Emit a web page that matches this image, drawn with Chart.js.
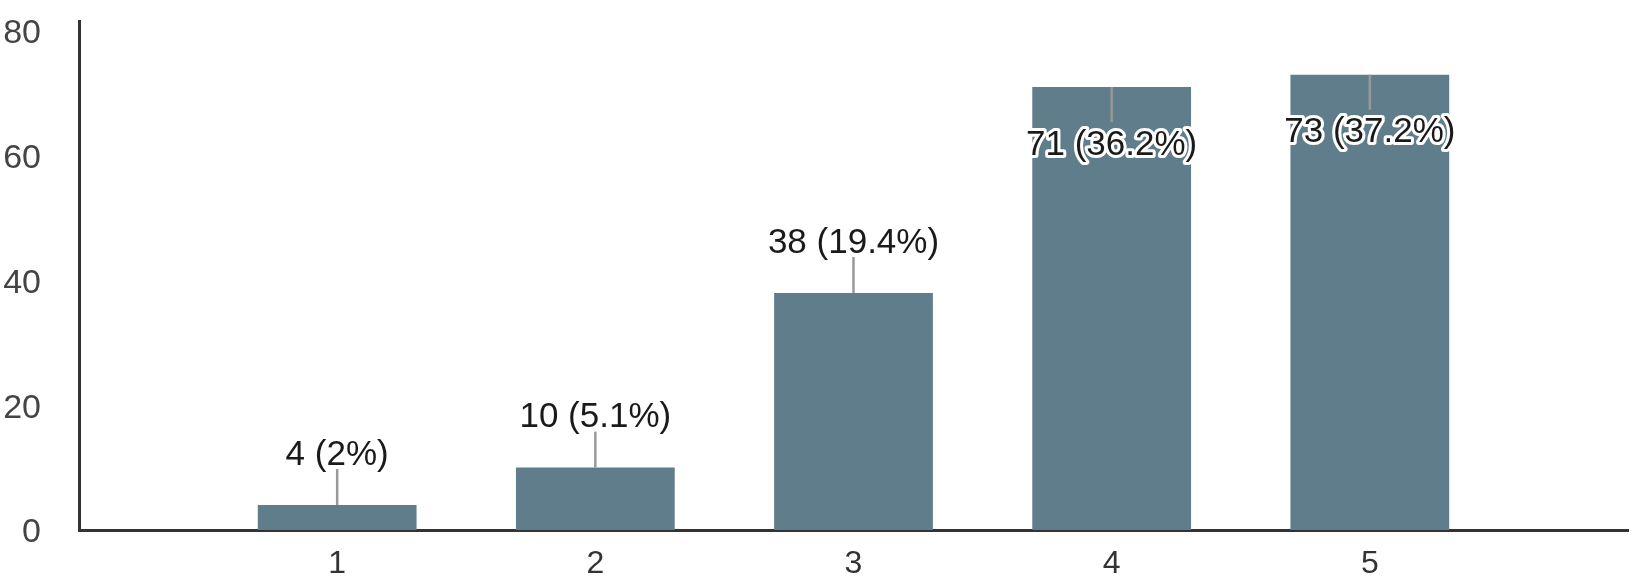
<!DOCTYPE html>
<html lang="en">
<head>
    <meta charset="UTF-8">
    <title>Responses</title>
    <script src="https://cdn.jsdelivr.net/npm/chart.js"></script>
    <style>
        html, body { margin: 0; padding: 0; background: #fff; }
        #wrap { width: 1639px; height: 581px; position: relative; }
    </style>
</head>
<body>
    <div id="wrap"><canvas id="responsesChart"></canvas></div>

    <script>
        // values
        const categories = ['1', '2', '3', '4', '5'];
        const counts = [4, 10, 38, 71, 73];
        const percents = ['2%', '5.1%', '19.4%', '36.2%', '37.2%'];
        const yTicks = [0, 20, 40, 60, 80];

        // empty slot on each side, like the original axis
        const labels = [''].concat(categories, ['']);
        const values = [null].concat(counts, [null]);

        // leader line + "count (pct)" label for each bar
        const leaderLabels = {
            id: 'leaderLabels',
            afterDatasetsDraw(chart) {
                const ctx = chart.ctx;
                const meta = chart.getDatasetMeta(0);
                ctx.save();
                meta.data.forEach((bar, i) => {
                    const v = values[i];
                    if (v === null || v === undefined) return;
                    const k = i - 1;
                    const text = counts[k] + ' (' + percents[k] + ')';
                    const inside = bar.y - 90 < chart.chartArea.top;
                    const lineEnd = inside ? bar.y + 35 : bar.y - 36;
                    const textY = inside ? bar.y + 58 : bar.y - 50;

                    ctx.strokeStyle = '#999999';
                    ctx.lineWidth = 2.5;
                    ctx.beginPath();
                    ctx.moveTo(bar.x, bar.y);
                    ctx.lineTo(bar.x, lineEnd);
                    ctx.stroke();

                    ctx.font = '35px "Liberation Sans", Arial, sans-serif';
                    ctx.textAlign = 'center';
                    ctx.textBaseline = 'middle';
                    ctx.lineJoin = 'round';
                    ctx.strokeStyle = '#ffffff';
                    ctx.lineWidth = 6;
                    ctx.strokeText(text, bar.x, textY);
                    ctx.fillStyle = '#1a1a1a';
                    ctx.fillText(text, bar.x, textY);
                });
                ctx.restore();
            }
        };

        const responsesChart = new Chart(document.getElementById('responsesChart'), {
            type: 'bar',
            data: {
                labels: labels,
                datasets: [{
                    data: values,
                    backgroundColor: '#607d8b',
                    barPercentage: 0.615,
                    categoryPercentage: 1.0
                }]
            },
            options: {
                responsive: true,
                maintainAspectRatio: false,
                animation: false,
                layout: { padding: { top: 21, right: 11, left: 0, bottom: 0 } },
                plugins: {
                    legend: { display: false },
                    tooltip: { enabled: false }
                },
                scales: {
                    x: {
                        offset: false,
                        grid: { display: false, drawTicks: false },
                        border: { display: true, color: '#333333', width: 3 },
                        ticks: {
                            color: '#333333',
                            padding: 15,
                            maxRotation: 0,
                            autoSkip: false,
                            font: { family: '"Liberation Sans", Arial, sans-serif', size: 32 }
                        },
                        afterFit: (scale) => {
                            scale.height = 51;
                            scale.paddingLeft = 0;
                            scale.paddingRight = 0;
                        }
                    },
                    y: {
                        min: 0,
                        max: 81.6,
                        grid: { display: false, drawTicks: false },
                        border: { display: true, color: '#333333', width: 3 },
                        ticks: {
                            stepSize: 20,
                            includeBounds: false,
                            color: '#444444',
                            padding: 38,
                            labelOffset: 3,
                            font: { family: '"Liberation Sans", Arial, sans-serif', size: 34 }
                        },
                        afterBuildTicks: (scale) => {
                            scale.ticks = yTicks.map(v => ({ value: v }));
                        },
                        afterFit: (scale) => {
                            scale.width = 79;
                            scale.paddingTop = 0;
                            scale.paddingBottom = 0;
                        }
                    }
                }
            },
            plugins: [leaderLabels]
        });
    </script>
</body>
</html>
